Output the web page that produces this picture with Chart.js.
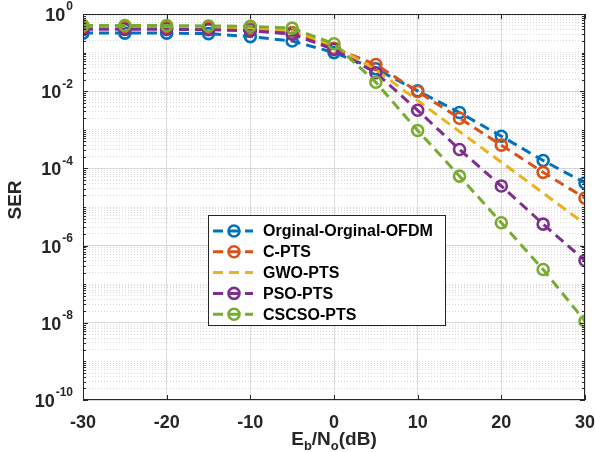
<!DOCTYPE html>
<html>
<head>
<meta charset="utf-8">
<script src="https://cdn.jsdelivr.net/npm/chart.js@4"></script>
<style>
  html, body { margin: 0; padding: 0; background: #ffffff; }
  canvas { display: block; }
</style>
</head>
<body>
<canvas id="serChart" width="595" height="452"></canvas>
<script>
// Eb/No values (dB)
const snr = [-30, -25, -20, -15, -10, -5, 0, 5, 10, 15, 20, 25, 30];

// SER per method
const original = [0.32, 0.32, 0.32, 0.31, 0.26, 0.2, 0.1, 0.038, 0.0102, 0.0028, 6.8e-4, 1.6e-4, 4.2e-5];
const cPts = [0.44, 0.44, 0.44, 0.43, 0.41, 0.33, 0.13, 0.049, 0.0098, 0.002, 4e-4, 7.9e-5, 1.7e-5];
const gwoPts = [0.47, 0.47, 0.47, 0.46, 0.44, 0.38, 0.15, 0.036, 0.0057, 9e-4, 1.45e-4, 2.3e-5, 3.6e-6];
const psoPts = [0.40, 0.40, 0.40, 0.39, 0.37, 0.3, 0.12, 0.03, 0.0032, 3.1e-4, 3.5e-5, 3.6e-6, 4.1e-7];
const cscsoPts = [0.5, 0.5, 0.5, 0.49, 0.48, 0.43, 0.17, 0.017, 9.6e-4, 6.3e-5, 3.9e-6, 2.4e-7, 1.1e-8];

const seriesLabels = ['Orginal-Orginal-OFDM', 'C-PTS', 'GWO-PTS', 'PSO-PTS', 'CSCSO-PTS'];
const xTicks = [-30, -20, -10, 0, 10, 20, 30];
const yExponents = [0, -2, -4, -6, -8, -10];

const colors = ['#0072BD', '#D95319', '#EDB120', '#7E2F8E', '#77AC30'];
const hasMarker = [true, true, false, true, true];
const FONT = '"Liberation Sans", Arial, sans-serif';
const DASH = [10, 6];

function makeDataset(i, values) {
    return {
        label: seriesLabels[i],
        data: snr.map((x, k) => ({ x: x, y: values[k] })),
        borderColor: colors[i],
        backgroundColor: colors[i],
        borderWidth: 3,
        borderDash: DASH,
        pointRadius: hasMarker[i] ? 5.5 : 0,
        pointBorderWidth: 2.6,
        pointBackgroundColor: 'rgba(0,0,0,0)',
        pointBorderColor: colors[i],
        tension: 0,
        order: 5 - i
    };
}

function isMajor(v) {
    const e = Math.round(Math.log10(v));
    return Math.abs(v - Math.pow(10, e)) < 1e-14 * Math.pow(10, e + 1) && e % 2 === 0;
}

function logTicks() {
    const t = [];
    for (let e = -10; e <= 0; e++) {
        for (let m = 1; m <= 9; m++) {
            const v = m * Math.pow(10, e);
            if (v <= 1.0000001) t.push({ value: v });
        }
    }
    return t;
}

// draws box, ticks, labels, titles and legend the matlab way
const matlabDecor = {
    id: 'matlabDecor',
    afterDraw(chart) {
        const ctx = chart.ctx;
        const a = chart.chartArea;
        const xs = chart.scales.x;
        const ys = chart.scales.y;
        ctx.save();

        // axes box
        ctx.strokeStyle = '#262626';
        ctx.lineWidth = 1;
        ctx.setLineDash([]);
        ctx.strokeRect(a.left + 0.5, a.top + 0.5, a.right - a.left - 1, a.bottom - a.top - 1);

        // inward ticks
        ctx.beginPath();
        xTicks.forEach(v => {
            const px = Math.round(xs.getPixelForValue(v)) + 0.5;
            ctx.moveTo(px, a.bottom); ctx.lineTo(px, a.bottom - 5);
            ctx.moveTo(px, a.top); ctx.lineTo(px, a.top + 5);
        });
        logTicks().forEach(t => {
            const py = Math.round(ys.getPixelForValue(t.value)) + 0.5;
            const len = isMajor(t.value) ? 5 : 3;
            ctx.moveTo(a.left, py); ctx.lineTo(a.left + len, py);
            ctx.moveTo(a.right, py); ctx.lineTo(a.right - len, py);
        });
        ctx.stroke();

        // x tick labels
        ctx.fillStyle = '#262626';
        ctx.font = 'bold 18px ' + FONT;
        ctx.textAlign = 'center';
        ctx.textBaseline = 'middle';
        xTicks.forEach(v => {
            ctx.fillText(String(v), xs.getPixelForValue(v), 423);
        });

        // y tick labels 10^e
        yExponents.forEach(e => {
            const py = ys.getPixelForValue(Math.pow(10, e));
            const sup = String(e);
            ctx.font = 'bold 12px ' + FONT;
            const wSup = ctx.measureText(sup).width;
            ctx.font = 'bold 18px ' + FONT;
            const wBase = ctx.measureText('10').width;
            const right = 73;
            ctx.textAlign = 'left';
            ctx.textBaseline = 'middle';
            ctx.fillText('10', right - wSup - wBase - 1, py + 2);
            ctx.font = 'bold 12px ' + FONT;
            ctx.fillText(sup, right - wSup, py - 7);
        });

        // y title
        ctx.save();
        ctx.translate(16, 200);
        ctx.rotate(-Math.PI / 2);
        ctx.font = 'bold 19px ' + FONT;
        ctx.textAlign = 'center';
        ctx.textBaseline = 'middle';
        ctx.fillText('SER', 0, 0);
        ctx.restore();

        // x title  E_b/N_o(dB)
        const parts = [
            { t: 'E', size: 19, dy: 0 },
            { t: 'b', size: 13, dy: 5 },
            { t: '/N', size: 19, dy: 0 },
            { t: 'o', size: 13, dy: 5 },
            { t: '(dB)', size: 19, dy: 0 }
        ];
        let total = 0;
        parts.forEach(p => {
            ctx.font = 'bold ' + p.size + 'px ' + FONT;
            p.w = ctx.measureText(p.t).width;
            total += p.w;
        });
        let cx = (a.left + a.right) / 2 - total / 2;
        ctx.textAlign = 'left';
        ctx.textBaseline = 'alphabetic';
        parts.forEach(p => {
            ctx.font = 'bold ' + p.size + 'px ' + FONT;
            ctx.fillText(p.t, cx, 445 + p.dy);
            cx += p.w;
        });

        // legend
        const box = { x: 208, y: 215, w: 237, h: 110 };
        ctx.fillStyle = '#ffffff';
        ctx.fillRect(box.x, box.y, box.w, box.h);
        ctx.strokeStyle = '#262626';
        ctx.lineWidth = 1;
        ctx.strokeRect(box.x + 0.5, box.y + 0.5, box.w, box.h);
        const rowGap = 20.8;
        seriesLabels.forEach((lab, i) => {
            const ry = 231 + i * rowGap;
            ctx.strokeStyle = colors[i];
            ctx.lineWidth = 3;
            ctx.setLineDash(DASH);
            ctx.beginPath();
            ctx.moveTo(213, ry); ctx.lineTo(253, ry);
            ctx.stroke();
            ctx.setLineDash([]);
            if (hasMarker[i]) {
                ctx.lineWidth = 2.6;
                ctx.beginPath();
                ctx.arc(234, ry, 5.5, 0, Math.PI * 2);
                ctx.stroke();
            }
            ctx.fillStyle = '#000000';
            ctx.font = 'bold 16px ' + FONT;
            ctx.textAlign = 'left';
            ctx.textBaseline = 'middle';
            ctx.fillText(lab, 263, ry + 1);
        });

        ctx.restore();
    }
};

new Chart(document.getElementById('serChart'), {
    type: 'line',
    data: {
        datasets: [
            makeDataset(0, original),
            makeDataset(1, cPts),
            makeDataset(2, gwoPts),
            makeDataset(3, psoPts),
            makeDataset(4, cscsoPts)
        ]
    },
    options: {
        responsive: false,
        animation: false,
        layout: { padding: { left: 83, right: 10, top: 14, bottom: 52 } },
        plugins: {
            legend: { display: false },
            tooltip: { enabled: false }
        },
        scales: {
            x: {
                type: 'linear',
                min: -30,
                max: 30,
                afterBuildTicks: scale => { scale.ticks = xTicks.map(v => ({ value: v })); },
                ticks: { display: false },
                grid: { color: '#dcdcdc', lineWidth: 1, drawTicks: false },
                border: { display: false }
            },
            y: {
                type: 'logarithmic',
                min: 1e-10,
                max: 1,
                afterBuildTicks: scale => { scale.ticks = logTicks(); },
                ticks: { display: false },
                grid: {
                    drawTicks: false,
                    lineWidth: 1,
                    color: c => (c.tick && isMajor(c.tick.value)) ? '#d6d6d6' : 'rgba(0,0,0,0.14)'
                },
                border: {
                    display: false,
                    dash: c => (c.tick && isMajor(c.tick.value)) ? [] : [1, 2]
                }
            }
        }
    },
    plugins: [matlabDecor]
});
</script>
</body>
</html>
